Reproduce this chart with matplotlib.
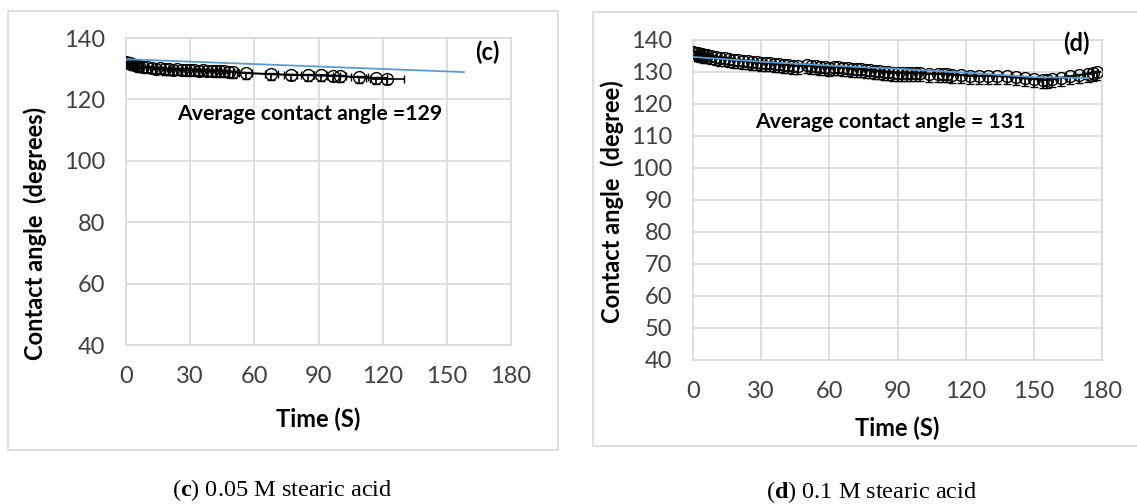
import numpy as np
import matplotlib
matplotlib.use("Agg")
import matplotlib.pyplot as plt
from matplotlib.patches import Rectangle

plt.rcParams["font.family"] = ["Lato", "DejaVu Sans"]
plt.rcParams["mathtext.fontset"] = "custom"
plt.rcParams["mathtext.rm"] = "Liberation Serif"
plt.rcParams["mathtext.bf"] = "Liberation Serif:bold"

# ── (c) 0.05 M stearic acid ───────────────────────────────────────────────────
t_c = [0, 1, 2, 3, 4, 5, 6, 8, 10, 12, 14, 16, 18, 20, 22, 24, 26, 28, 30, 32,
       34, 36, 38, 40, 42, 44, 46, 48, 50, 56, 68, 77, 85, 91, 97, 100, 109,
       117, 122]
ang_c = [132.2, 131.9, 132.0, 131.5, 131.3, 131.0, 130.8, 130.6, 130.4, 130.3,
         130.0, 130.1, 129.8, 129.9, 129.7, 129.8, 129.6, 129.7, 129.5, 129.6,
         129.4, 129.5, 129.3, 129.4, 129.2, 129.3, 129.1, 129.0, 128.9, 128.6,
         128.2, 128.0, 127.9, 127.8, 127.7, 127.6, 127.2, 126.9, 126.8]
xerr_c = [2, 2, 2, 2, 2, 2, 2, 2, 2, 2, 2, 2, 2, 2, 2, 2, 2, 2, 2, 2,
          2, 2, 2, 2, 2, 2, 2, 2, 2, 3, 3, 3, 3, 3, 3, 3, 4, 5, 8]
trend_t_c = [0, 158]
trend_c = [133.1, 128.9]

# ── (d) 0.1 M stearic acid ────────────────────────────────────────────────────
t_d = [0, 1, 2, 3, 4, 5, 6, 8, 10, 12, 14, 16, 18, 20, 22, 24, 26, 28, 30, 32,
       34, 36, 38, 40, 42, 44, 46, 50, 52, 54, 56, 58, 60, 62, 64, 66, 68, 70,
       72, 74, 76, 78, 80, 82, 84, 86, 88, 90, 92, 94, 96, 98, 100, 104, 108,
       110, 112, 114, 118, 122, 126, 130, 134, 138, 142, 146, 150, 154, 156,
       158, 162, 166, 170, 174, 176, 178]
ang_d = [136.3, 136.0, 135.8, 135.6, 135.5, 135.3, 135.2, 134.9, 134.7, 134.5,
         134.3, 134.0, 133.8, 133.6, 133.5, 133.3, 133.2, 133.0, 132.9, 132.8,
         132.7, 132.6, 132.4, 132.3, 132.2, 132.0, 131.9, 132.1, 132.0, 131.8,
         131.6, 131.5, 131.4, 131.5, 131.6, 131.4, 131.2, 131.0, 130.9, 130.8,
         130.6, 130.5, 130.3, 130.2, 130.0, 129.9, 129.8, 129.8, 129.7, 129.7,
         129.6, 129.6, 129.6, 129.5, 129.4, 129.5, 129.3, 129.2, 129.0, 128.9,
         128.8, 128.8, 128.7, 128.6, 128.3, 128.0, 127.8, 127.5, 127.6, 127.8,
         128.2, 128.6, 129.0, 129.5, 129.8, 130.0]
trend_t_d = [0, 30, 60, 90, 120, 150, 174]
trend_d = [134.7, 133.2, 132.0, 131.0, 129.8, 128.4, 128.1]

GRID = "#d9d9d9"
BLUE = "#5b9bd5"

fig = plt.figure(figsize=(11.37, 5.04), dpi=100)
W, H = 1137, 504

# outer chart frames
fig.patches.append(Rectangle((8 / W, 1 - 450 / H), 550 / W, 439 / H, transform=fig.transFigure,
                             fill=False, edgecolor=GRID, linewidth=1.2))
fig.patches.append(Rectangle((593 / W, 1 - 446 / H), 560 / W, 434 / H, transform=fig.transFigure,
                             fill=False, edgecolor=GRID, linewidth=1.2))


def style_axis(ax, ymin, ystep, ylabel, xlab_y, ylab_xy):
    ax.set_xlim(0, 180)
    ax.set_ylim(ymin, 140)
    ax.set_xticks(np.arange(0, 181, 30))
    ax.set_yticks(np.arange(ymin, 141, ystep))
    ax.grid(True, color=GRID, linewidth=1.2)
    ax.set_axisbelow(True)
    for s in ax.spines.values():
        s.set_edgecolor(GRID)
        s.set_linewidth(1.2)
    ax.tick_params(length=0, labelsize=17, colors="#404040", pad=15)
    ax.set_xlabel("Time (S)", fontsize=17, fontweight="bold", color="black")
    ax.set_ylabel(ylabel, fontsize=17, fontweight="bold", color="black")
    ax.xaxis.set_label_coords(0.5, xlab_y)
    ax.yaxis.set_label_coords(*ylab_xy)


def draw_series(ax, t, ang, yerr_lo, xerr):
    n = len(t)
    ax.errorbar(t, ang, yerr=[[yerr_lo] * n, [0.3] * n], xerr=xerr, fmt="none",
                ecolor="black", elinewidth=1.2, capsize=3, zorder=2)
    ax.plot(t, ang, color="black", linewidth=1.5, marker="o", markersize=8.5,
            markerfacecolor="none", markeredgecolor="black", markeredgewidth=1.0, zorder=3)


# left panel (c)
ax1 = fig.add_axes([126 / W, 1 - 345 / H, 385 / W, 307 / H])
style_axis(ax1, 40, 20, "Contact angle  (degrees)", -0.205, (-0.205, 0.362))
draw_series(ax1, t_c, ang_c, 1.8, xerr_c)
ax1.plot(trend_t_c, trend_c, color=BLUE, linewidth=1.3, zorder=4)
ax1.text(86, 115.2, "Average contact angle =129", fontsize=15.3, fontweight="bold",
         ha="center", va="center")
ax1.text(169, 135.4, "(c)", fontsize=17, fontweight="bold", ha="center", va="center")

# right panel (d)
ax2 = fig.add_axes([693 / W, 1 - 360 / H, 409 / W, 320 / H])
style_axis(ax2, 40, 10, "Contact angle  (degree)", -0.178, (-0.168, 0.494))
draw_series(ax2, t_d, ang_d, 2.5, 2.0)
ax2.plot(trend_t_d, trend_d, color=BLUE, linewidth=1.3, zorder=4)
ax2.text(86.7, 114.4, "Average contact angle = 131", fontsize=15.3, fontweight="bold",
         ha="center", va="center")
ax2.text(168.6, 139.0, "(d)", fontsize=17, fontweight="bold", ha="center", va="center")

# captions
fig.text(282 / W, 1 - 490 / H, r"($\mathbf{c}$) 0.05 M stearic acid", fontsize=17.5,
         family="Liberation Serif", ha="center", va="center")
fig.text(872 / W, 1 - 492 / H, r"($\mathbf{d}$) 0.1 M stearic acid", fontsize=17.5,
         family="Liberation Serif", ha="center", va="center")

fig.savefig("out.png", dpi=100, facecolor="white")
